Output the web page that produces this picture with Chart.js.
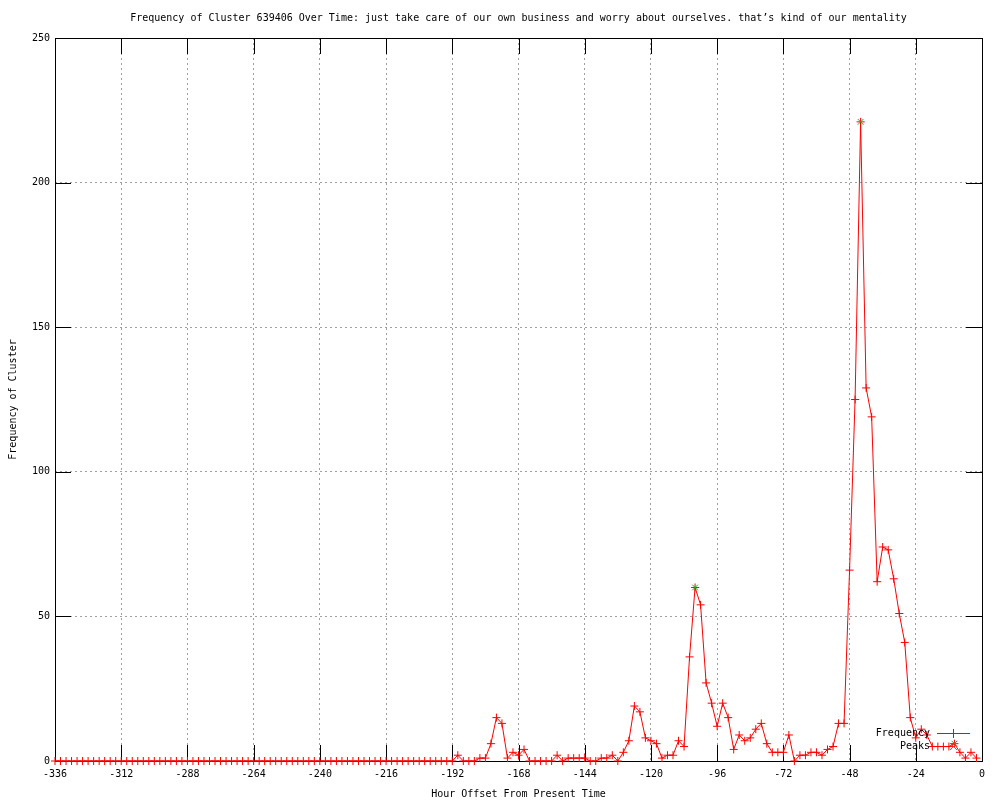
<!DOCTYPE html>
<html>
<head>
<meta charset="utf-8">
<script src="https://cdn.jsdelivr.net/npm/chart.js@4"></script>
<style>
  html, body { margin: 0; padding: 0; background: #fff; }
  canvas { display: block; }
</style>
</head>
<body>
<canvas id="chart" width="1000" height="800"></canvas>
<script>
const titleText = 'Frequency of Cluster 639406 Over Time: just take care of our own business and worry about ourselves. that\u2019s kind of our mentality';

const hours = [
  -336, -334, -332, -330, -328, -326, -324, -322, -320, -318, -316, -314,
  -312, -310, -308, -306, -304, -302, -300, -298, -296, -294, -292, -290,
  -288, -286, -284, -282, -280, -278, -276, -274, -272, -270, -268, -266,
  -264, -262, -260, -258, -256, -254, -252, -250, -248, -246, -244, -242,
  -240, -238, -236, -234, -232, -230, -228, -226, -224, -222, -220, -218,
  -216, -214, -212, -210, -208, -206, -204, -202, -200, -198, -196, -194,
  -192, -190, -188, -186, -184, -182, -180, -178, -176, -174, -172, -170,
  -168, -166, -164, -162, -160, -158, -156, -154, -152, -150, -148, -146,
  -144, -142, -140, -138, -136, -134, -132, -130, -128, -126, -124, -122,
  -120, -118, -116, -114, -112, -110, -108, -106, -104, -102, -100, -98,
  -96, -94, -92, -90, -88, -86, -84, -82, -80, -78, -76, -74,
  -72, -70, -68, -66, -64, -62, -60, -58, -56, -54, -52, -50,
  -48, -46, -44, -42, -40, -38, -36, -34, -32, -30, -28, -26,
  -24, -22, -20, -18, -16, -14, -12, -10, -8, -6, -4, -2,
];

const frequency = [
  0, 0, 0, 0, 0, 0, 0, 0, 0, 0, 0, 0,
  0, 0, 0, 0, 0, 0, 0, 0, 0, 0, 0, 0,
  0, 0, 0, 0, 0, 0, 0, 0, 0, 0, 0, 0,
  0, 0, 0, 0, 0, 0, 0, 0, 0, 0, 0, 0,
  0, 0, 0, 0, 0, 0, 0, 0, 0, 0, 0, 0,
  0, 0, 0, 0, 0, 0, 0, 0, 0, 0, 0, 0,
  0, 2, 0, 0, 0, 1, 1, 6, 15, 13, 1, 3,
  2, 4, 0, 0, 0, 0, 0, 2, 0, 1, 1, 1,
  1, 0, 0, 1, 1, 2, 0, 3, 7, 19, 17, 8,
  7, 6, 1, 2, 2, 7, 5, 36, 60, 54, 27, 20,
  12, 20, 15, 4, 9, 7, 8, 11, 13, 6, 3, 3,
  3, 9, 0, 2, 2, 3, 3, 2, 4, 5, 13, 13,
  66, 125, 221, 129, 119, 62, 74, 73, 63, 51, 41, 15,
  8, 11, 9, 5, 5, 5, 5, 6, 3, 1, 3, 1,
];

const peakHours = [-104, -44, -10];
const peakValues = [60, 221, 6];

const xTicks = [-336, -312, -288, -264, -240, -216, -192, -168, -144, -120, -96, -72, -48, -24, 0];
const yTicks = [0, 50, 100, 150, 200, 250];

const font = { family: "'DejaVu Sans Mono', 'Liberation Mono', monospace", size: 10, weight: 'normal' };

// gnuplot style: black frame, ticks pointing inward, legend inside bottom right
const framePlugin = {
  id: 'frame',
  beforeDatasetsDraw(chart) {
    const { ctx, chartArea: a, scales } = chart;
    const len = 16;
    ctx.save();
    ctx.strokeStyle = '#000';
    ctx.lineWidth = 1;
    ctx.beginPath();
    xTicks.forEach((v) => {
      const x = Math.round(scales.x.getPixelForValue(v)) + 0.5;
      ctx.moveTo(x, a.bottom);
      ctx.lineTo(x, a.bottom - len);
      ctx.moveTo(x, a.top);
      ctx.lineTo(x, a.top + len);
    });
    yTicks.forEach((v) => {
      const y = Math.round(scales.y.getPixelForValue(v)) + 0.5;
      ctx.moveTo(a.left, y);
      ctx.lineTo(a.left + len, y);
      ctx.moveTo(a.right, y);
      ctx.lineTo(a.right - len, y);
    });
    ctx.stroke();
    ctx.strokeRect(Math.round(a.left) + 0.5, Math.round(a.top) + 0.5,
      Math.round(a.right - a.left), Math.round(a.bottom - a.top));
    ctx.restore();
  },
  afterDraw(chart) {
    const { ctx } = chart;
    ctx.save();
    ctx.font = `${font.size}px ${font.family}`;
    ctx.fillStyle = '#000';
    ctx.textAlign = 'right';
    ctx.textBaseline = 'middle';
    ctx.fillText('Frequency', 930, 733);
    ctx.fillText('Peaks', 930, 746);
    ctx.lineWidth = 1;
    ctx.strokeStyle = '#ff0000';
    ctx.beginPath();
    ctx.moveTo(937, 733.5);
    ctx.lineTo(970, 733.5);
    ctx.moveTo(953.5, 729);
    ctx.lineTo(953.5, 738);
    ctx.stroke();
    ctx.strokeStyle = '#00c000';
    ctx.beginPath();
    ctx.moveTo(950, 743);
    ctx.lineTo(957, 750);
    ctx.moveTo(957, 743);
    ctx.lineTo(950, 750);
    ctx.stroke();
    ctx.restore();
  },
};

new Chart(document.getElementById('chart').getContext('2d'), {
  type: 'line',
  data: {
    datasets: [
      {
        label: 'Peaks',
        data: peakHours.map((h, i) => ({ x: h, y: peakValues[i] })),
        showLine: false,
        pointStyle: 'crossRot',
        pointRadius: 4,
        pointBorderWidth: 1,
        pointBorderColor: '#00c000',
        pointBackgroundColor: '#00c000',
        clip: false,
        order: 1,
      },
      {
        label: 'Frequency',
        data: hours.map((h, i) => ({ x: h, y: frequency[i] })),
        borderColor: '#ff0000',
        borderWidth: 1,
        tension: 0,
        pointStyle: 'cross',
        pointRadius: 4,
        pointBorderWidth: 1,
        pointBorderColor: '#ff0000',
        clip: false,
        order: 2,
      },
    ],
  },
  options: {
    responsive: false,
    animation: false,
    devicePixelRatio: 1,
    layout: { padding: { top: 0, right: 18, bottom: 0, left: 0 } },
    plugins: {
      legend: { display: false },
      tooltip: { enabled: false },
      title: {
        display: true,
        text: titleText,
        color: '#000',
        font,
        fullSize: false,
        padding: { top: 12, bottom: 14 },
      },
    },
    scales: {
      x: {
        type: 'linear',
        min: -336,
        max: 0,
        afterFit: (scale) => { scale.height = 39; },
        afterBuildTicks: (scale) => { scale.ticks = xTicks.map((v) => ({ value: v })); },
        ticks: { color: '#000', font, padding: 7, maxRotation: 0, autoSkip: false },
        grid: { color: '#a0a0a0', drawTicks: false, lineWidth: 1 },
        border: { display: false, dash: [2, 3] },
        title: {
          display: true,
          text: 'Hour Offset From Present Time',
          color: '#000',
          font,
          padding: { top: 0, bottom: 0 },
        },
      },
      y: {
        min: 0,
        max: 250,
        afterFit: (scale) => { scale.width = 55; },
        afterBuildTicks: (scale) => { scale.ticks = yTicks.map((v) => ({ value: v })); },
        ticks: { color: '#000', font, padding: 5 },
        grid: { color: '#a0a0a0', drawTicks: false, lineWidth: 1 },
        border: { display: false, dash: [2, 3] },
        title: {
          display: true,
          text: 'Frequency of Cluster',
          color: '#000',
          font,
          padding: { top: 7, bottom: 0 },
        },
      },
    },
  },
  plugins: [framePlugin],
});
</script>
</body>
</html>
